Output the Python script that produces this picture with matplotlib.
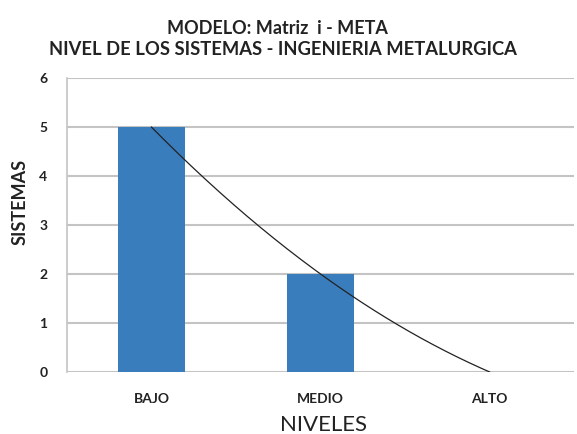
import numpy as np
import matplotlib.pyplot as plt

# Data
niveles = ['BAJO', 'MEDIO', 'ALTO']
sistemas = [5, 2, 0]
yticks = [0, 1, 2, 3, 4, 5, 6]

plt.rcParams['font.family'] = ['Lato', 'DejaVu Sans']

fig = plt.figure(figsize=(5.77, 4.34), dpi=100)
ax = fig.add_axes([0.116, 0.143, 0.879, 0.677])

x = np.arange(len(niveles))
ax.bar(x, sistemas, width=0.4, color='#3A7DBD', zorder=2)

# polynomial trend line (order 2) through the bar values
coef = np.polyfit(x, sistemas, 2)
xs = np.linspace(x[0], x[-1], 200)
ax.plot(xs, np.polyval(coef, xs), color='#222222', lw=0.9, zorder=3)

ax.set_xlim(-0.5, 2.5)
ax.set_ylim(0, 6)
ax.set_yticks(yticks)
ax.set_xticks(x)
ax.set_xticklabels(niveles, fontsize=10, fontweight='bold', color='#222222')
ax.set_yticklabels([str(t) for t in yticks], fontsize=10, fontweight='bold', color='#222222')
ax.tick_params(length=0)
ax.tick_params(axis='y', pad=14)
ax.tick_params(axis='x', pad=15)

ax.grid(axis='y', color='#C4C4C4', lw=1.5, zorder=0)
for s in ['top', 'right', 'bottom']:
    ax.spines[s].set_visible(False)
ax.spines['left'].set_color('#C4C4C4')
ax.spines['left'].set_linewidth(1.2)

ax.set_xlabel('NIVELES', fontsize=16, color='#222222')
ax.xaxis.set_label_coords(0.505, -0.148)
ax.set_ylabel('SISTEMAS', fontsize=13, fontweight='bold', color='#222222')
ax.yaxis.set_label_coords(-0.075, 0.58)

fig.text(0.48, 0.935, 'MODELO: Matriz  i - META', ha='center', va='center',
         fontsize=13, fontweight='bold', color='#222222')
fig.text(0.49, 0.885, 'NIVEL DE LOS SISTEMAS - INGENIERIA METALURGICA', ha='center', va='center',
         fontsize=13.2, fontweight='bold', color='#222222')

fig.savefig('out.png', dpi=100)
